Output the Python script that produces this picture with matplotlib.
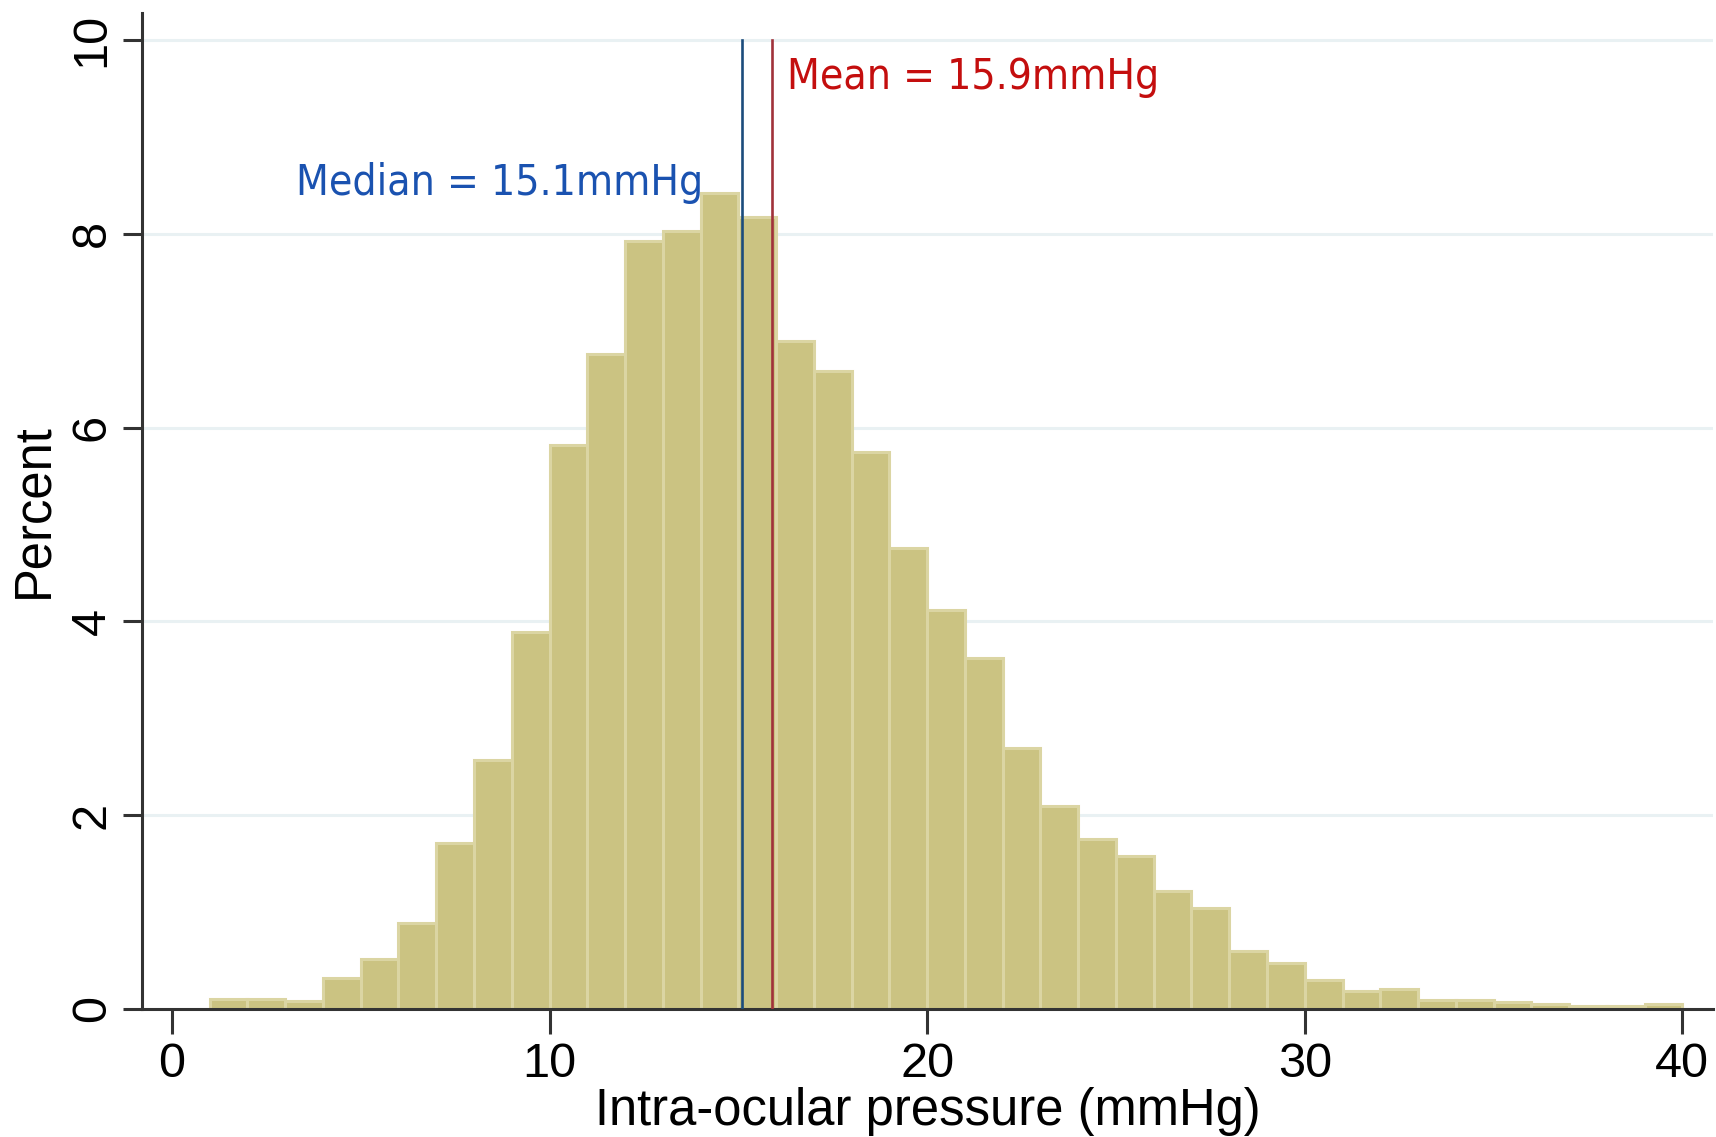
import matplotlib
matplotlib.use("Agg")
import matplotlib.pyplot as plt
import numpy as np

# histogram of intra-ocular pressure, 1 mmHg bins from 1 to 40
bin_left = list(range(1, 40))
percent = [0.10, 0.10, 0.08, 0.32, 0.52, 0.89, 1.71, 2.57, 3.89, 5.82,
           6.76, 7.93, 8.03, 8.42, 8.17, 6.89, 6.58, 5.75, 4.76, 4.12,
           3.62, 2.69, 2.10, 1.75, 1.58, 1.22, 1.04, 0.60, 0.47, 0.30,
           0.19, 0.21, 0.09, 0.09, 0.07, 0.05, 0.03, 0.03, 0.05]
median_val = 15.1
mean_val = 15.9
x_ticks = [0, 10, 20, 30, 40]
y_ticks = [0, 2, 4, 6, 8, 10]

fig = plt.figure(figsize=(17.16, 11.37), dpi=100)
ax = fig.add_axes([0.083, 0.1126, 0.915, 0.876])

for y in y_ticks[1:]:
    ax.axhline(y, color="#e9f1f3", lw=2.2, zorder=0)

ax.bar(bin_left, percent, width=1.0, align="edge", color="#cbc382",
       edgecolor="#dbd5a3", linewidth=2.2, zorder=2)

ax.plot([median_val, median_val], [0, 10], color="#1c4c7c", lw=1.9, zorder=3)
ax.plot([mean_val, mean_val], [0, 10], color="#a0323a", lw=1.9, zorder=3)

ax.text(16.3, 9.62, "Mean = 15.9mmHg", color="#c40e0e", fontsize=30.5,
        fontstretch="condensed", va="center", ha="left")
ax.text(14.08, 8.52, "Median = 15.1mmHg", color="#1a52b0", fontsize=30.5,
        fontstretch="condensed", va="center", ha="right")

ax.set_xlim(-0.78, 40.8)
ax.set_ylim(0, 10.28)
ax.set_xticks(x_ticks)
ax.set_yticks(y_ticks)
ax.set_xticklabels([str(v) for v in x_ticks], fontsize=35, family="Liberation Sans")
ax.set_yticklabels([str(v) for v in y_ticks], fontsize=35, family="Liberation Sans",
                   rotation=90, va="center")
ax.tick_params(axis="x", length=18, width=2.2, color="#333333", pad=6)
ax.tick_params(axis="y", length=14, width=2.2, color="#333333", pad=6)

for s in ["top", "right"]:
    ax.spines[s].set_visible(False)
for s in ["left", "bottom"]:
    ax.spines[s].set_color("#333333")
    ax.spines[s].set_linewidth(2.2)

ax.set_xlabel("Intra-ocular pressure (mmHg)", fontsize=36.5, family="Liberation Sans",
              labelpad=0)
ax.set_ylabel("Percent", fontsize=36.5, family="Liberation Sans", labelpad=8)

fig.savefig("out.png", dpi=100)
